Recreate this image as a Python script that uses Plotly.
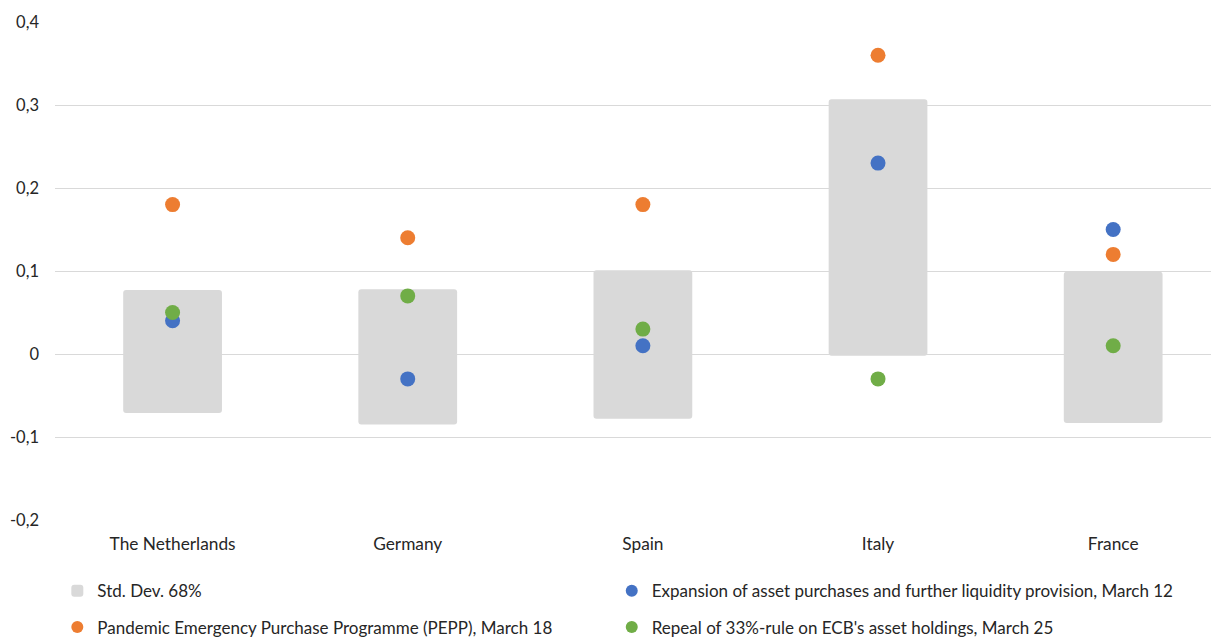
import plotly.graph_objects as go

categories = ["The Netherlands", "Germany", "Spain", "Italy", "France"]
sd_low = [-0.071, -0.085, -0.078, -0.002, -0.083]
sd_high = [0.077, 0.078, 0.101, 0.307, 0.099]
expansion = [0.04, -0.03, 0.01, 0.23, 0.15]
pepp = [0.18, 0.14, 0.18, 0.36, 0.12]
repeal = [0.05, 0.07, 0.03, -0.03, 0.01]
ytick_vals = [-0.2, -0.1, 0, 0.1, 0.2, 0.3, 0.4]
ytick_text = ["-0,2", "-0,1", "0", "0,1", "0,2", "0,3", "0,4"]

xpos = list(range(len(categories)))
FONT = "Lato, 'Open Sans', sans-serif"
TXT = "#262626"
FS = 17.3

fig = go.Figure()
fig.add_trace(go.Bar(
    x=xpos, y=[h - l for h, l in zip(sd_high, sd_low)], base=sd_low,
    width=0.42, marker=dict(color="#D9D9D9", line=dict(width=0)),
    name="Std. Dev. 68%", legend="legend", legendgroup="a",
    hoverinfo="skip"))
fig.add_trace(go.Scatter(
    x=xpos, y=expansion, mode="markers",
    marker=dict(color="#4472C4", size=15),
    name="Expansion of asset purchases and further liquidity provision, March 12",
    legend="legend2", legendgroup="b"))
fig.add_trace(go.Scatter(
    x=xpos, y=pepp, mode="markers",
    marker=dict(color="#ED7D31", size=15),
    name="Pandemic Emergency Purchase Programme (PEPP), March 18",
    legend="legend", legendgroup="c"))
fig.add_trace(go.Scatter(
    x=xpos, y=repeal, mode="markers",
    marker=dict(color="#70AD47", size=15),
    name="Repeal of 33%-rule on ECB's asset holdings, March 25",
    legend="legend2", legendgroup="d"))

legend_common = dict(
    orientation="v", yanchor="top", xanchor="left",
    font=dict(family=FONT, size=17, color=TXT),
    tracegroupgap=11, itemsizing="constant", bgcolor="rgba(0,0,0,0)",
    traceorder="grouped")

fig.update_layout(
    width=1211, height=630,
    margin=dict(l=47, r=0, t=14, b=118, autoexpand=False),
    plot_bgcolor="white", paper_bgcolor="white",
    font=dict(family=FONT, size=FS, color=TXT),
    barcornerradius=3,
    showlegend=True,
    legend=dict(x=0.002, y=-0.107, **legend_common),
    legend2=dict(x=0.4783, y=-0.107, **legend_common),
    xaxis=dict(
        range=[-0.5, 4.45], tickvals=xpos, ticktext=categories,
        showgrid=False, zeroline=False, showline=False, ticks="",
        automargin=False,
        ticklabelstandoff=12, tickfont=dict(size=FS, color=TXT)),
    yaxis=dict(
        range=[-0.2, 0.4], tickvals=ytick_vals, ticktext=ytick_text,
        showgrid=True, gridcolor="#D9D9D9", gridwidth=1.3,
        zeroline=False, showline=False, ticks="", automargin=False,
        ticklabelstandoff=15, tickfont=dict(size=16.5, color=TXT)),
)

fig.write_html("out.html")
